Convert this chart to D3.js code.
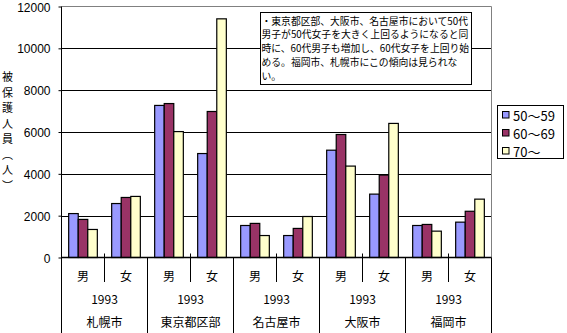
<!DOCTYPE html>
<html><head><meta charset="utf-8">
<script src="https://cdn.jsdelivr.net/npm/d3@7"></script>
<style>
html,body{margin:0;padding:0;background:#fff;}
svg{display:block;font-family:"Noto Sans CJK JP","Noto Sans",sans-serif;}
</style></head>
<body>
<svg id="chart" width="567" height="333"></svg>
<script>
// ---- data ----
const cities = ["札幌市","東京都区部","名古屋市","大阪市","福岡市"];
const years = ["1993","1993","1993","1993","1993"];
const sexes = ["男","女"];
const seriesNames = ["50～59","60～69","70～"];
const age50 = [2100, 2580, 7270, 4970, 1530, 1050, 5130, 3030, 1530, 1690];
const age60 = [1820, 2870, 7360, 6980, 1630, 1390, 5880, 3940, 1580, 2210];
const age70 = [1340, 2920, 6020, 11410, 1050, 1960, 4370, 6410, 1260, 2790];
const yTicks = [0, 2000, 4000, 6000, 8000, 10000, 12000];
const yTitle = ["被","保","護","人","員","︵","人","︶"];
const noteLines = [
  "・東京都区部、大阪市、名古屋市において50代",
  "男子が50代女子を大きく上回るようになると同",
  "時に、60代男子も増加し、60代女子を上回り始",
  "める。福岡市、札幌市にこの傾向は見られな",
  "い。"
];
const colors = ["#9999FF","#993366","#FFFFCC"];

// ---- layout ----
const svg = d3.select("#chart");
const L = 61.5, R = 491.5, T = 6.5, B = 257.5;
const cats = d3.range(cities.length * sexes.length);
const x = d3.scaleBand().domain(cats).range([L, R]).padding(0);
const y = d3.scaleLinear().domain([0, 12000]).range([B, T]);
const series = [age50, age60, age70];
const barW = x.bandwidth() / 4.5;
const xs = d3.scaleBand().domain(d3.range(3))
  .range([x.bandwidth()/2 - 1.5*barW, x.bandwidth()/2 + 1.5*barW]).padding(0);

// gridlines
svg.append("g").selectAll("line").data(yTicks.filter(v => v > 0 && v < 12000)).join("line")
  .attr("x1", L).attr("x2", R).attr("y1", d => Math.round(y(d)) + 0.5).attr("y2", d => Math.round(y(d)) + 0.5)
  .attr("stroke", "#000").attr("stroke-width", 1);
// plot border top & right (grey)
svg.append("path").attr("d", `M${L},${T}H${R}V${B}`).attr("fill","none").attr("stroke","#808080").attr("stroke-width",1);

// bars
series.forEach((vals, si) => {
  svg.append("g").selectAll("rect").data(vals).join("rect")
    .attr("x", (d, i) => x(i) + xs(si))
    .attr("width", xs.bandwidth())
    .attr("y", d => y(d))
    .attr("height", d => B - y(d))
    .attr("fill", colors[si]).attr("stroke", "#000").attr("stroke-width", 1.2);
});

// y axis
const yAxis = d3.axisLeft(y).tickValues(yTicks).tickSize(3).tickPadding(8).tickFormat(d3.format("d"));
const gy = svg.append("g").attr("transform", `translate(${L},0)`).call(yAxis);
gy.select(".domain").remove();
gy.selectAll("line").attr("stroke", "#000");
gy.selectAll("text").attr("font-size", 12).attr("fill", "#000").attr("dy", "0.38em")
  .style("font-family", '"Liberation Sans",Arial,sans-serif');
svg.append("line").attr("x1", L).attr("x2", L).attr("y1", T).attr("y2", 333).attr("stroke", "#000");

// x axis line
svg.append("line").attr("x1", L).attr("x2", R).attr("y1", B).attr("y2", B).attr("stroke", "#000").attr("stroke-width", 1.3);
// category ticks
const bounds = d3.range(cats.length + 1);
svg.append("g").selectAll("line").data(bounds).join("line")
  .attr("x1", i => i < cats.length ? x(i) : R).attr("x2", i => i < cats.length ? x(i) : R)
  .attr("y1", i => i % 2 === 0 ? B : B - 4)
  .attr("y2", i => i % 2 === 0 ? 333 : 282)
  .attr("stroke", "#000");

// sex labels
svg.append("g").selectAll("text").data(cats).join("text")
  .attr("x", i => x(i) + x.bandwidth()/2).attr("y", 275)
  .attr("text-anchor", "middle").attr("dominant-baseline", "central")
  .attr("font-size", 12).text(i => sexes[i % 2]);
// year labels
const cityX = d3.scaleBand().domain(d3.range(cities.length)).range([L, R]);
svg.append("g").selectAll("text").data(years).join("text")
  .attr("x", (d, i) => cityX(i) + cityX.bandwidth()/2).attr("y", 298.5)
  .attr("text-anchor", "middle").attr("dominant-baseline", "central")
  .attr("font-size", 12).text(d => d);
svg.append("g").selectAll("text").data(cities).join("text")
  .attr("x", (d, i) => cityX(i) + cityX.bandwidth()/2).attr("y", 321.5)
  .attr("text-anchor", "middle").attr("dominant-baseline", "central")
  .attr("font-size", 12).text(d => d);

// y title (vertical)
svg.append("g").selectAll("text").data(yTitle).join("text")
  .attr("x", 7.5).attr("y", (d, i) => 76 + i * 15.5)
  .attr("text-anchor", "middle").attr("dominant-baseline", "central")
  .attr("font-size", 11).text(d => d);

// legend
const lg = svg.append("g");
lg.append("rect").attr("x", 497.5).attr("y", 105.5).attr("width", 66).attr("height", 53)
  .attr("fill", "#fff").attr("stroke", "#000");
seriesNames.forEach((n, i) => {
  const cy = 115 + i * 18;
  lg.append("rect").attr("x", 502.5).attr("y", cy - 3.5).attr("width", 6.5).attr("height", 6.5)
    .attr("fill", colors[i]).attr("stroke", "#000");
  lg.append("text").attr("x", 513).attr("y", cy).attr("dominant-baseline", "central")
    .attr("font-size", 13).text(n);
});

// note box
const nb = svg.append("g");
nb.append("rect").attr("x", 260.5).attr("y", 12.5).attr("width", 211).attr("height", 72)
  .attr("fill", "#fff").attr("stroke", "#000");
nb.selectAll("text").data(noteLines).join("text")
  .attr("x", 261.5).attr("y", (d, i) => 20.7 + i * 13.7)
  .attr("dominant-baseline", "central").attr("font-size", 9.8).text(d => d);
</script>
</body></html>
